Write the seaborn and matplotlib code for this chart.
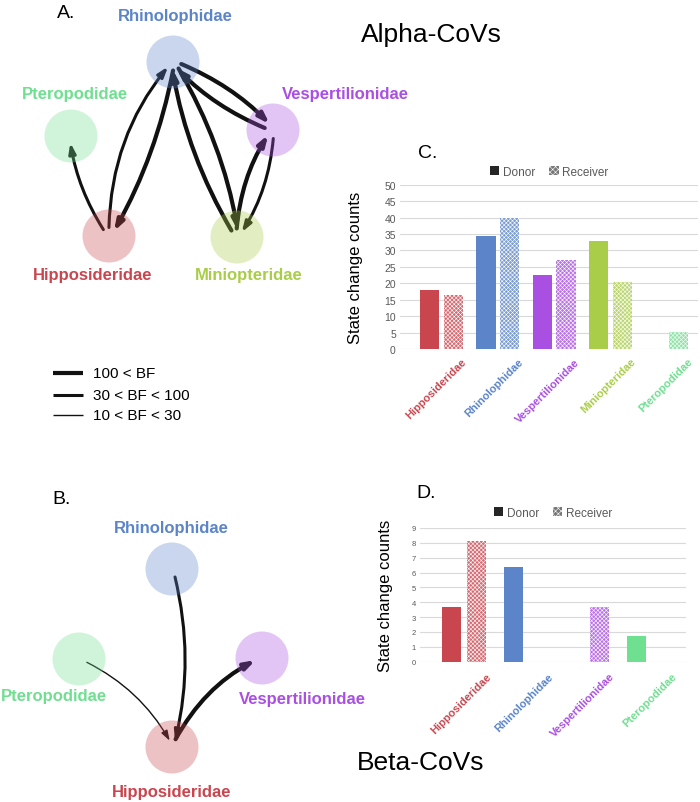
import matplotlib
matplotlib.use("Agg")
import matplotlib.pyplot as plt
import matplotlib.transforms as mtransforms
from matplotlib.colors import to_rgb
from matplotlib.patches import Circle, FancyArrowPatch, Patch
import numpy as np
import pandas as pd
import seaborn as sns

sns.set_theme(style="white")
plt.rcParams['font.family'] = ['Liberation Sans', 'DejaVu Sans']
plt.rcParams['text.color'] = 'black'
plt.rcParams['hatch.linewidth'] = 0.4

# ---------------------------------------- DATA ----------------------------------------
alpha_families = ["Hipposideridae", "Rhinolophidae", "Vespertilionidae", "Miniopteridae", "Pteropodidae"]
alpha_donor = [18, 34.5, 22.5, 33, 0]
alpha_receiver = [16.5, 40, 27, 20.5, 5.3]

beta_families = ["Hipposideridae", "Rhinolophidae", "Vespertilionidae", "Pteropodidae"]
beta_donor = [3.7, 6.4, 0, 1.7]
beta_receiver = [8.1, 0, 3.7, 0]

# supported transitions: (from, to, BF class, curvature)
alpha_edges = [
    ("Hipposideridae", "Pteropodidae", "mid", -0.10),
    ("Hipposideridae", "Rhinolophidae", "mid", -0.17),
    ("Rhinolophidae", "Hipposideridae", "strong", -0.08),
    ("Rhinolophidae", "Miniopteridae", "strong", -0.09),
    ("Miniopteridae", "Rhinolophidae", "strong", -0.09),
    ("Rhinolophidae", "Vespertilionidae", "strong", -0.10),
    ("Vespertilionidae", "Rhinolophidae", "strong", -0.10),
    ("Miniopteridae", "Vespertilionidae", "strong", -0.12),
    ("Vespertilionidae", "Miniopteridae", "mid", -0.12),
]
beta_edges = [
    ("Rhinolophidae", "Hipposideridae", "mid", -0.12),
    ("Pteropodidae", "Hipposideridae", "weak", -0.15),
    ("Hipposideridae", "Vespertilionidae", "strong", -0.15),
]
bf_classes = ["strong", "mid", "weak"]
bf_labels = ["100 < BF", "30 < BF < 100", "10 < BF < 30"]

# ---------------------------------------- STYLE ----------------------------------------
colors = {
    "Hipposideridae": "#C9464F",
    "Rhinolophidae": "#5B84C9",
    "Vespertilionidae": "#A94FE2",
    "Miniopteridae": "#A9CD48",
    "Pteropodidae": "#6FDF90",
}
bf_width = {"strong": 3.0, "mid": 2.2, "weak": 1.0}


def lighten(c, f):
    r = np.array(to_rgb(c))
    return tuple(r + (1 - r) * f)


# node layout in figure pixels (y down)
alpha_nodes = {
    "Rhinolophidae": (173, 63), "Pteropodidae": (71, 137), "Vespertilionidae": (273, 131),
    "Hipposideridae": (109, 237), "Miniopteridae": (237, 238),
}
alpha_labels = {
    "Rhinolophidae": (175, 17), "Pteropodidae": (75, 95), "Vespertilionidae": (345, 95),
    "Hipposideridae": (93, 276), "Miniopteridae": (249, 276),
}
beta_nodes = {
    "Rhinolophidae": (172, 570), "Pteropodidae": (79, 660), "Vespertilionidae": (262, 659),
    "Hipposideridae": (172, 748),
}
beta_labels = {
    "Rhinolophidae": (171, 529), "Pteropodidae": (54, 697), "Vespertilionidae": (302, 700),
    "Hipposideridae": (172, 793),
}

W, H = 700, 803
fig = plt.figure(figsize=(W / 100, H / 100), dpi=100)

# overlay axes in pixel coordinates for the networks and panel texts
ov = fig.add_axes([0, 0, 1, 1])
ov.set_xlim(0, W)
ov.set_ylim(H, 0)
ov.axis('off')


def draw_network(nodes, labels, edges):
    for src, dst, bf, rad in edges:
        p0 = np.array(nodes[src], dtype=float)
        p1 = np.array(nodes[dst], dtype=float)
        u = (p1 - p0) / np.linalg.norm(p1 - p0)
        n = np.array([u[1], -u[0]])
        start = p0 + u * 8 + n * 3
        end = p1 - u * 6 + n * 3
        lw = bf_width[bf]
        arr = FancyArrowPatch(start, end, connectionstyle=f"arc3,rad={rad}",
                              arrowstyle="-|>,head_length=0.6,head_width=0.2",
                              mutation_scale=10, lw=lw, color="#111111",
                              shrinkA=0, shrinkB=0, zorder=2)
        ov.add_patch(arr)
    for fam, (x, y) in nodes.items():
        ov.add_patch(Circle((x, y), 26.5, facecolor=colors[fam], alpha=0.33, lw=0, zorder=3))
    for fam, (x, y) in labels.items():
        ov.text(x, y, fam, color=colors[fam], fontsize=12, fontweight='bold',
                ha='center', va='center', zorder=4)


draw_network(alpha_nodes, alpha_labels, alpha_edges)
draw_network(beta_nodes, beta_labels, beta_edges)

# BF legend
for i, (bf, lab) in enumerate(zip(bf_classes, bf_labels)):
    y = [374, 396, 416][i]
    ov.plot([53, 83], [y, y], color="#111111", lw=bf_width[bf], solid_capstyle='butt')
    ov.text(93, y, lab, fontsize=11, ha='left', va='center')

# panel letters and titles
ov.text(66, 13, "A.", fontsize=14, ha='center', va='center')
ov.text(62, 500, "B.", fontsize=14, ha='center', va='center')
ov.text(428, 153, "C.", fontsize=14, ha='center', va='center')
ov.text(426, 494, "D.", fontsize=14, ha='center', va='center')
ov.text(431, 35, "Alpha-CoVs", fontsize=19, ha='center', va='center')
ov.text(421, 763, "Beta-CoVs", fontsize=19, ha='center', va='center')


# ---------------------------------------- BAR PANELS ----------------------------------------
def bar_panel(rect, families, donor, receiver, width, gap, ymax, ystep, xlim,
              tick_fs, label_off, legend_y, ylabel_x):
    ax = fig.add_axes(rect)
    df = pd.DataFrame({
        "family": families * 2,
        "role": ["Donor"] * len(families) + ["Receiver"] * len(families),
        "count": donor + receiver,
    })
    sns.barplot(data=df, x="family", y="count", hue="role", ax=ax, width=width,
                gap=gap, legend=False, saturation=1, errorbar=None)
    for bar, fam in zip(ax.containers[0], families):
        bar.set_facecolor(colors[fam])
        bar.set_edgecolor('none')
    for bar, fam in zip(ax.containers[1], families):
        bar.set_facecolor(lighten(colors[fam], 0.2))
        bar.set_edgecolor('white')
        bar.set_hatch('xxxxxxxx')
        bar.set_linewidth(0)
    ax.set_xlim(*xlim)
    ax.set_ylim(0, ymax)
    ax.set_yticks(np.arange(0, ymax + 0.01, ystep))
    ax.yaxis.grid(True, color='#D9D9D9', lw=0.8)
    ax.set_axisbelow(True)
    sns.despine(ax=ax, left=True, bottom=True)
    ax.tick_params(axis='y', length=0, labelsize=tick_fs, labelcolor='#595959', pad=3)
    ax.set_xticks([])
    ax.set_xlabel("")
    ax.set_ylabel("State change counts", fontsize=12, color='black')
    ax.yaxis.set_label_coords(ylabel_x, 0.5)
    off = mtransforms.ScaledTranslation(label_off[0] / 100, label_off[1] / 100, fig.dpi_scale_trans)
    for i, fam in enumerate(families):
        ax.text(i, 0, fam, transform=ax.get_xaxis_transform() + off, rotation=45,
                rotation_mode='anchor', ha='right', va='top', fontsize=8,
                fontweight='bold', color=colors[fam])
    handles = [Patch(facecolor='#262626', edgecolor='none'),
               Patch(facecolor='#777777', edgecolor='white', hatch='xxxxxx', linewidth=0)]
    ax.legend(handles, ["Donor", "Receiver"], ncol=2, frameon=False, loc='center',
              bbox_to_anchor=(0.5, legend_y), fontsize=8.5, labelcolor='#595959',
              handlelength=0.8, handleheight=0.8, handletextpad=0.3, columnspacing=1.2)
    return ax


bar_panel([400 / W, 1 - 350 / H, 298 / W, (350 - 185.7) / H],
          alpha_families, alpha_donor, alpha_receiver, width=0.84, gap=0.19,
          ymax=50, ystep=5, xlim=(-0.736, 4.55), tick_fs=7.5, label_off=(20, -7),
          legend_y=1.077, ylabel_x=-0.124)

bar_panel([420 / W, 1 - 662.7 / H, 265.7 / W, (662.7 - 529) / H],
          beta_families, beta_donor, beta_receiver, width=0.8, gap=0.23,
          ymax=9, ystep=1, xlim=(-0.71, 3.59), tick_fs=5.5, label_off=(22, -9),
          legend_y=1.112, ylabel_x=-0.10)

fig.savefig("out.png", dpi=100)
